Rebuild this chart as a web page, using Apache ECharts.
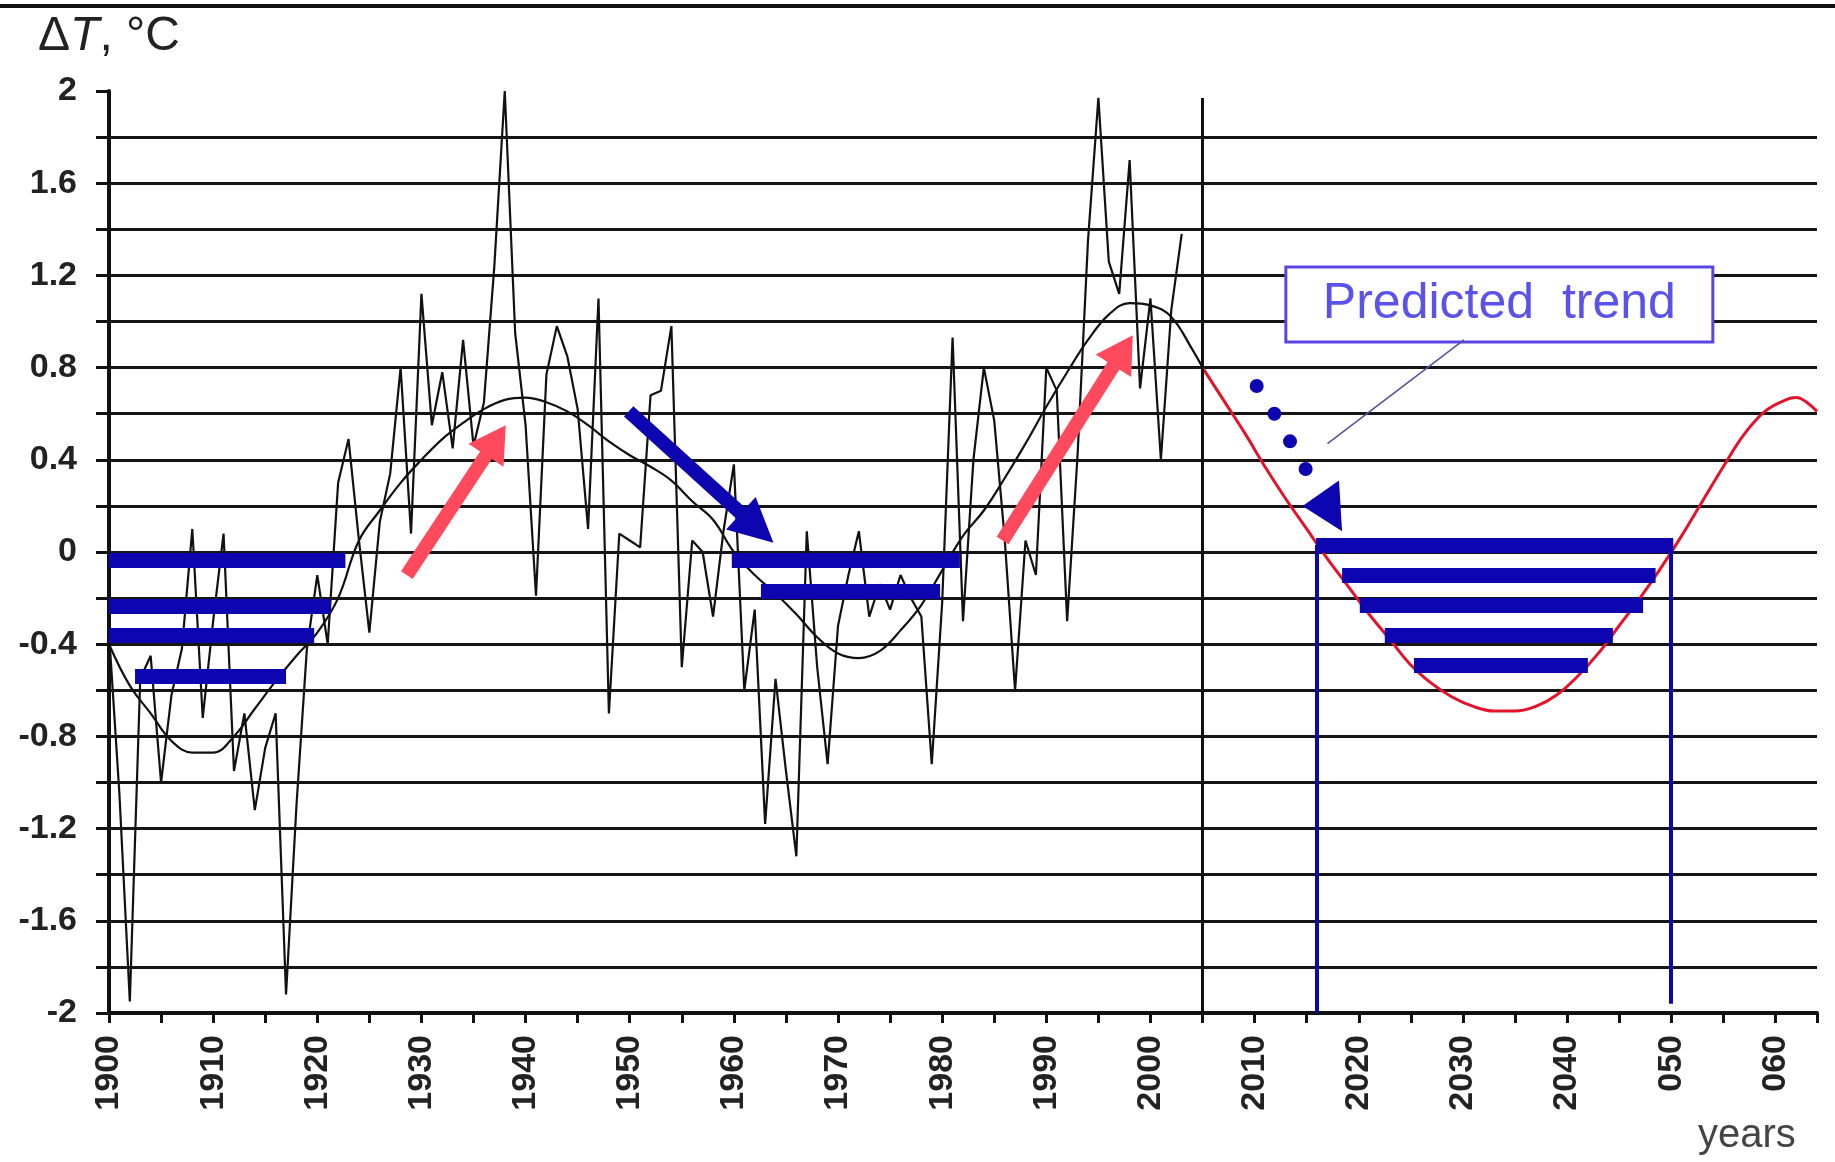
<!DOCTYPE html>
<html>
<head>
<meta charset="utf-8">
<title>Temperature anomaly and predicted trend</title>
<script src="https://cdn.jsdelivr.net/npm/echarts@6/dist/echarts.min.js"></script>
<style>
html, body { margin: 0; padding: 0; background: #fff; }
#chart { width: 1835px; height: 1162px; }
</style>
</head>
<body>
<div id="chart"></div>
<script>
// annual anomaly, 1900..2003
var noisyStart = 1900;
var noisyValues = [
    -0.35, -1.05, -1.95, -0.55, -0.45, -1.00, -0.62, -0.42, 0.10, -0.72,
    -0.30, 0.08, -0.95, -0.70, -1.12, -0.85, -0.70, -1.92, -1.10, -0.42,
    -0.10, -0.40, 0.30, 0.49, 0.05, -0.35, 0.13, 0.34, 0.80, 0.08,
    1.12, 0.55, 0.78, 0.45, 0.92, 0.46, 0.65, 1.24, 2.00, 0.95,
    0.55, -0.19, 0.77, 0.98, 0.85, 0.62, 0.10, 1.10, -0.70, 0.08,
    0.05, 0.02, 0.68, 0.70, 0.98, -0.50, 0.05, 0.00, -0.28, 0.09,
    0.38, -0.60, -0.25, -1.18, -0.55, -0.95, -1.32, 0.09, -0.50, -0.92,
    -0.32, -0.10, 0.09, -0.28, -0.14, -0.25, -0.10, -0.20, -0.28, -0.92,
    -0.22, 0.93, -0.30, 0.40, 0.80, 0.57, 0.06, -0.60, 0.05, -0.10,
    0.80, 0.70, -0.30, 0.42, 1.35, 1.97, 1.26, 1.12, 1.70, 0.71,
    1.10, 0.40, 1.05, 1.38
];

// smoothed curve
var smoothYears = [1900, 1902, 1904, 1906, 1908, 1910, 1912, 1914, 1916, 1918,
    1920, 1922, 1924, 1926, 1928, 1930, 1932, 1934, 1936, 1938,
    1940, 1942, 1944, 1946, 1948, 1950, 1952, 1954, 1956, 1958,
    1960, 1962, 1964, 1966, 1968, 1970, 1972, 1974, 1976, 1978,
    1980, 1982, 1984, 1986, 1988, 1990, 1992, 1994, 1996, 1998,
    2000, 2002, 2004, 2005];
var smoothValues = [-0.40, -0.58, -0.70, -0.82, -0.87, -0.87, -0.80, -0.68, -0.56, -0.45,
    -0.35, -0.20, 0.05, 0.18, 0.30, 0.40, 0.49, 0.56, 0.62, 0.66,
    0.67, 0.65, 0.61, 0.55, 0.48, 0.42, 0.37, 0.31, 0.22, 0.14,
    0.00, -0.10, -0.18, -0.27, -0.37, -0.44, -0.46, -0.43, -0.34, -0.23,
    -0.08, 0.07, 0.18, 0.32, 0.47, 0.63, 0.78, 0.92, 1.03, 1.08,
    1.07, 1.02, 0.88, 0.80];

// predicted trend (red)
var forecastYears = [2005, 2007, 2009, 2011, 2013, 2015, 2017, 2019, 2021, 2023,
    2025, 2027, 2029, 2031, 2033, 2035, 2037, 2039, 2041, 2043,
    2045, 2047, 2049, 2051, 2053, 2055, 2057, 2059, 2061, 2062, 2063, 2064];
var forecastValues = [0.80, 0.66, 0.52, 0.37, 0.23, 0.10, -0.03, -0.15, -0.27, -0.38,
    -0.49, -0.57, -0.63, -0.67, -0.69, -0.69, -0.67, -0.62, -0.54, -0.44,
    -0.32, -0.20, -0.07, 0.07, 0.22, 0.37, 0.51, 0.61, 0.66, 0.67, 0.65, 0.61];

// blue cold-period bands: [from, to, level]
var blueBars = [
    [1900, 1922.7, -0.035], [1900, 1921.3, -0.235], [1900, 1919.7, -0.36], [1902.5, 1917.0, -0.54],
    [1959.8, 1981.7, -0.035], [1962.6, 1979.8, -0.17],
    [2015.9, 2050.2, 0.03], [2018.4, 2048.5, -0.10], [2020.1, 2047.3, -0.23], [2022.5, 2044.4, -0.36], [2025.3, 2042.0, -0.49]
];
var dividerLine = [2005, 1.97, -2];
var boundLines = [[2016, 0.03, -2], [2050, 0.03, -1.96]];

var redArrows = [[1928.6, -0.10, 1938.1, 0.55], [1985.8, 0.05, 1998.3, 0.94]];
var blueArrows = [[1949.9, 0.61, 1963.8, 0.04]];
var dottedDots = [[2010.2, 0.72], [2011.9, 0.60], [2013.4, 0.48], [2014.9, 0.36]];
var dottedHead = [[2018.1, 0.31], [2014.6, 0.20], [2018.4, 0.09]];

var boxLabel = 'Predicted  trend';
var boxCorners = [[2013.0, 1.236], [2054.0, 0.911]];
var leaderLine = [[2030.1, 0.92], [2017.0, 0.47]];

var yTickValues = [2, 1.6, 1.2, 0.8, 0.4, 0, -0.4, -0.8, -1.2, -1.6, -2];
var yTickLabels = ['2', '1.6', '1.2', '0.8', '0.4', '0', '-0.4', '-0.8', '-1.2', '-1.6', '-2'];
var xTickValues = [1900, 1910, 1920, 1930, 1940, 1950, 1960, 1970, 1980, 1990, 2000, 2010, 2020, 2030, 2040, 2050, 2060];
var xTickLabels = ['1900', '1910', '1920', '1930', '1940', '1950', '1960', '1970', '1980', '1990', '2000', '2010', '2020', '2030', '2040', '050', '060'];

function pickLabel(values, labels, v) {
    for (var i = 0; i < values.length; i++) {
        if (Math.abs(values[i] - v) < 1e-6) return labels[i];
    }
    return '';
}

// thick arrow: shaft + triangular head, in pixel space
function arrowRender(shaftHalf, headLen, headHalf) {
    return function (params, api) {
        var a = api.coord([api.value(0), api.value(1)]);
        var b = api.coord([api.value(2), api.value(3)]);
        var dx = b[0] - a[0], dy = b[1] - a[1];
        var len = Math.sqrt(dx * dx + dy * dy);
        var ux = dx / len, uy = dy / len, nx = -uy, ny = ux;
        var bx = b[0] - ux * headLen, by = b[1] - uy * headLen;
        var pts = [
            [a[0] + nx * shaftHalf, a[1] + ny * shaftHalf],
            [bx + nx * shaftHalf, by + ny * shaftHalf],
            [bx + nx * headHalf, by + ny * headHalf],
            b,
            [bx - nx * headHalf, by - ny * headHalf],
            [bx - nx * shaftHalf, by - ny * shaftHalf],
            [a[0] - nx * shaftHalf, a[1] - ny * shaftHalf]
        ];
        return { type: 'polygon', shape: { points: pts }, style: { fill: api.visual('color') } };
    };
}

var myChart = echarts.init(document.getElementById('chart'));

var noisyData = [];
for (var i = 0; i < noisyValues.length; i++) {
    noisyData.push([noisyStart + i, noisyValues[i]]);
}
var smoothData = smoothYears.map(function (y, i) { return [y, smoothValues[i]]; });
var forecastData = forecastYears.map(function (y, i) { return [y, forecastValues[i]]; });

var barLines = blueBars.map(function (b) {
    return [{ coord: [b[0], b[2]] }, { coord: [b[1], b[2]] }];
});
var boundMarks = boundLines.map(function (b) {
    return [{ coord: [b[0], b[1]] }, { coord: [b[0], b[2]] }];
});

var option = {
    animation: false,
    backgroundColor: '#fff',
    grid: { left: 109, right: 18, top: 91, bottom: 149, containLabel: false },
    graphic: [
        { type: 'line', shape: { x1: 0, y1: 6, x2: 1835, y2: 6 }, style: { stroke: '#111', lineWidth: 4 } },
        { type: 'text', left: 1698, top: 1116,
          style: { text: 'years', fontSize: 40, fontFamily: 'Liberation Sans', fill: '#444' } }
    ],
    xAxis: {
        type: 'value', min: 1900, max: 2064, interval: 5,
        axisLine: { show: true, onZero: false, lineStyle: { color: '#111', width: 4 } },
        axisTick: { show: true, length: 10, lineStyle: { color: '#111', width: 3 } },
        axisLabel: {
            rotate: 90, margin: 22, fontSize: 34, fontWeight: 'bold',
            fontFamily: 'Liberation Sans', color: '#222',
            formatter: function (v) { return pickLabel(xTickValues, xTickLabels, v); }
        },
        splitLine: { show: false }
    },
    yAxis: {
        type: 'value', min: -2, max: 2, interval: 0.2,
        name: '{d|Δ}{t|T}{d|, °C}', nameLocation: 'end', nameGap: 30,
        nameTextStyle: {
            rich: {
                d: { fontSize: 48, fontFamily: 'Liberation Sans', color: '#222' },
                t: { fontSize: 48, fontFamily: 'Liberation Sans', fontStyle: 'italic', color: '#222' }
            }
        },
        axisLine: { show: true, onZero: false, lineStyle: { color: '#111', width: 4 } },
        axisTick: { show: true, length: 13, lineStyle: { color: '#111', width: 3 } },
        axisLabel: {
            margin: 32, fontSize: 34, fontWeight: 'bold', fontFamily: 'Liberation Sans', color: '#222',
            formatter: function (v) { return pickLabel(yTickValues, yTickLabels, v); }
        },
        splitLine: { show: true, showMaxLine: false, lineStyle: { color: '#151515', width: 3 } }
    },
    series: [
        {
            name: 'bands', type: 'scatter', data: [], z: 1, silent: true,
            markLine: {
                silent: true, symbol: 'none', label: { show: false },
                lineStyle: { color: '#0c05b0', width: 15, type: 'solid', cap: 'butt' },
                emphasis: { disabled: true },
                data: barLines
            }
        },
        {
            name: 'bounds', type: 'scatter', data: [], z: 2, silent: true,
            markLine: {
                silent: true, symbol: 'none', label: { show: false },
                lineStyle: { color: '#0c05b0', width: 4, type: 'solid' },
                emphasis: { disabled: true },
                data: boundMarks
            }
        },
        {
            name: 'divider', type: 'scatter', data: [], z: 2, silent: true,
            markLine: {
                silent: true, symbol: 'none', label: { show: false },
                lineStyle: { color: '#111', width: 3, type: 'solid' },
                emphasis: { disabled: true },
                data: [[{ coord: [dividerLine[0], dividerLine[1]] }, { coord: [dividerLine[0], dividerLine[2]] }]]
            }
        },
        {
            name: 'annual', type: 'line', data: noisyData, z: 3, silent: true,
            showSymbol: false, symbol: 'none',
            lineStyle: { color: '#111', width: 2.2 }
        },
        {
            name: 'smoothed', type: 'line', data: smoothData, z: 3, silent: true,
            showSymbol: false, symbol: 'none', smooth: 0.4,
            lineStyle: { color: '#111', width: 2.2 }
        },
        {
            name: 'forecast', type: 'line', data: forecastData, z: 3, silent: true,
            showSymbol: false, symbol: 'none', smooth: 0.4,
            lineStyle: { color: '#e3132c', width: 3 }
        },
        {
            name: 'warming', type: 'custom', z: 4, silent: true,
            itemStyle: { color: '#ff4a5e' },
            encode: { x: [0, 2], y: [1, 3] },
            renderItem: arrowRender(7, 36, 21),
            data: redArrows
        },
        {
            name: 'cooling', type: 'custom', z: 4, silent: true,
            itemStyle: { color: '#0c05b0' },
            encode: { x: [0, 2], y: [1, 3] },
            renderItem: arrowRender(7, 44, 22),
            data: blueArrows
        },
        {
            name: 'dots', type: 'scatter', z: 4, silent: true,
            symbol: 'circle', symbolSize: 14,
            itemStyle: { color: '#0c05b0', opacity: 1 },
            data: dottedDots
        },
        {
            name: 'dotsHead', type: 'custom', z: 4, silent: true,
            itemStyle: { color: '#0c05b0' },
            encode: { x: [0, 2, 4], y: [1, 3, 5] },
            renderItem: function (params, api) {
                var pts = [];
                for (var k = 0; k < 3; k++) {
                    pts.push(api.coord([api.value(2 * k), api.value(2 * k + 1)]));
                }
                return { type: 'polygon', shape: { points: pts }, style: { fill: api.visual('color') } };
            },
            data: [[dottedHead[0][0], dottedHead[0][1], dottedHead[1][0], dottedHead[1][1], dottedHead[2][0], dottedHead[2][1]]]
        },
        {
            name: 'note', type: 'scatter', data: [], z: 5, silent: true,
            markArea: {
                silent: true,
                itemStyle: { color: '#fff', borderColor: '#5b44e0', borderWidth: 3 },
                label: {
                    show: true, position: 'inside', color: '#5a52ea',
                    fontSize: 50, fontFamily: 'Liberation Sans'
                },
                emphasis: { disabled: true },
                data: [[{ name: boxLabel, coord: boxCorners[0] }, { coord: boxCorners[1] }]]
            },
            markLine: {
                silent: true, symbol: 'none', label: { show: false },
                lineStyle: { color: '#55509a', width: 1.5, type: 'solid' },
                emphasis: { disabled: true },
                data: [[{ coord: leaderLine[0] }, { coord: leaderLine[1] }]]
            }
        }
    ]
};

myChart.setOption(option);
</script>
</body>
</html>
